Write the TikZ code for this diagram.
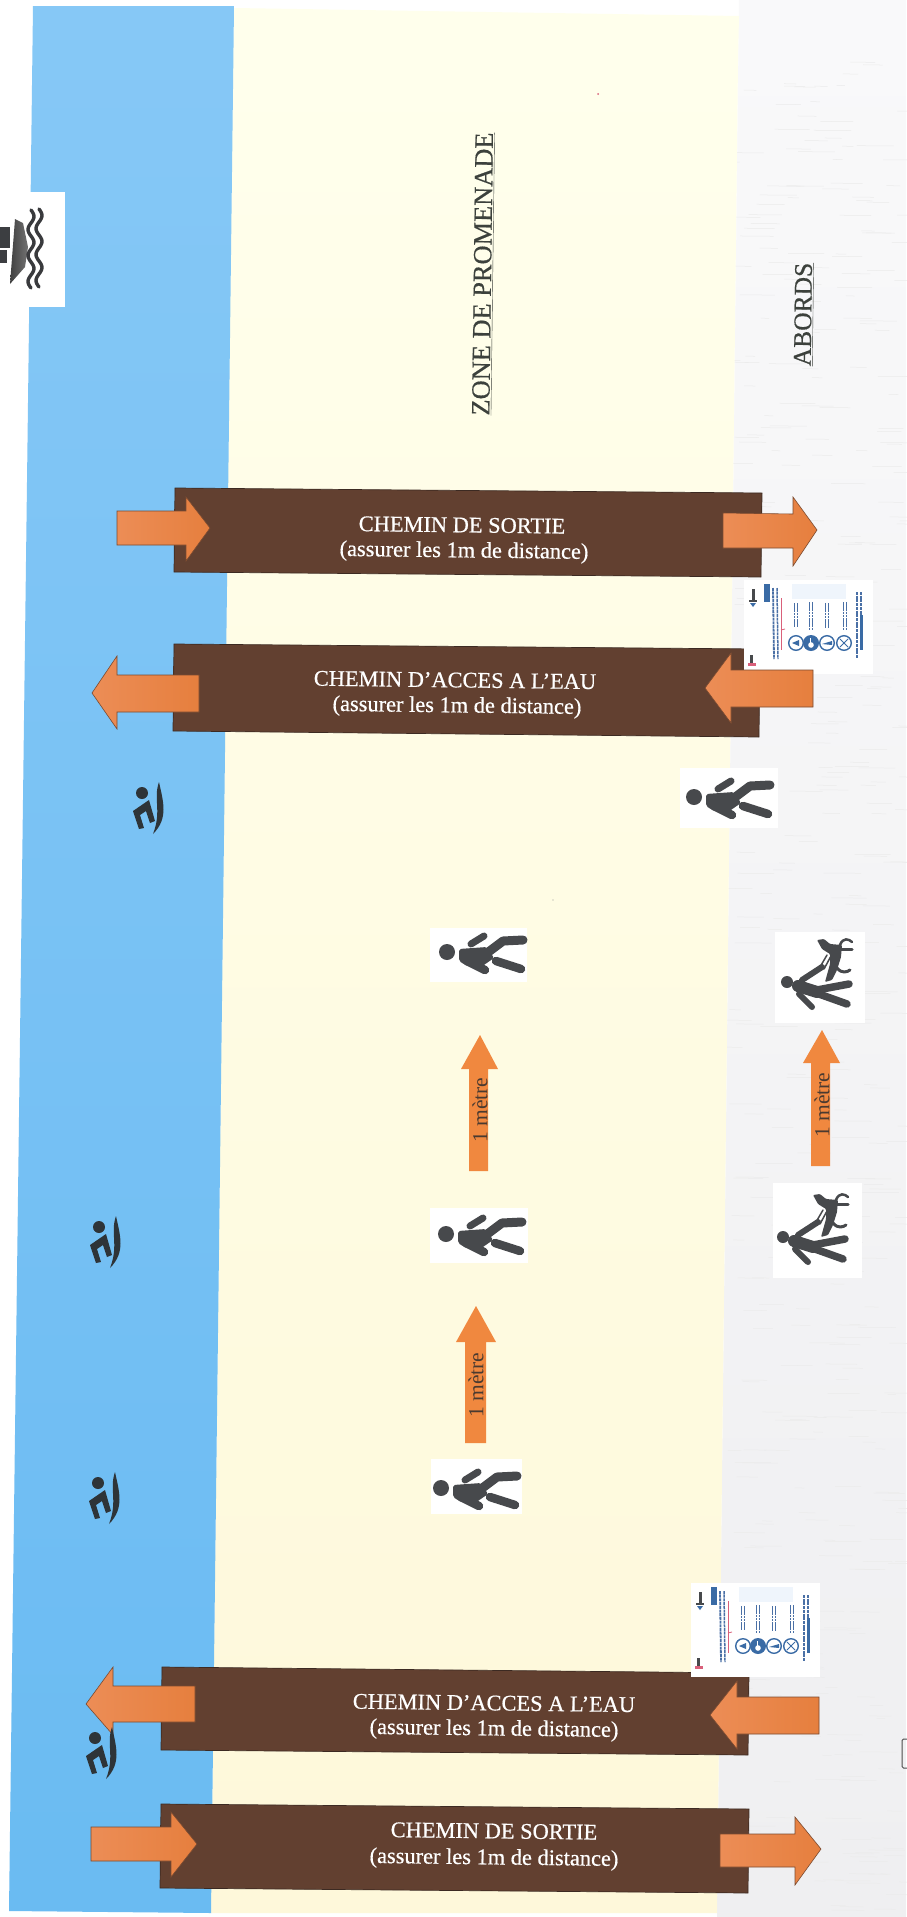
\documentclass[tikz,border=0pt]{standalone}
\usepackage{fontspec}
\setmainfont{Liberation Serif}
\newfontfamily\heavyfont[FakeBold=0.6]{Liberation Serif}
\newfontfamily\zonefont[FakeBold=0.5]{Liberation Serif}
\definecolor{cream}{HTML}{FEF8DA}
\definecolor{creamtop}{HTML}{FFFFEC}
\definecolor{creamb}{HTML}{FDF8D8}
\definecolor{bluea}{HTML}{86C8F6}
\definecolor{blueb}{HTML}{6ABBF2}
\definecolor{graya}{HTML}{F9F9FA}
\definecolor{grayb}{HTML}{EFEFF1}
\definecolor{barline}{HTML}{3C2A22}
\definecolor{barlight}{HTML}{624030}
\definecolor{bardark}{HTML}{50261C}
\definecolor{arrowline}{HTML}{7A4A30}
\definecolor{arrowa}{HTML}{EC8D56}
\definecolor{arrowb}{HTML}{E67F3E}
\definecolor{meter}{HTML}{F0883F}
\definecolor{meterink}{HTML}{4A3A30}
\definecolor{ink}{HTML}{47494C}
\definecolor{swimink}{HTML}{2E3438}
\definecolor{zoneink}{HTML}{3C413C}
\definecolor{postblue}{HTML}{3A6BA5}
\definecolor{posttext}{HTML}{4A70A6}
\definecolor{postred}{HTML}{D9607A}
\definecolor{blotch}{HTML}{EFF5FC}
\tikzset{
  barfill/.style={draw=barline,line width=0.7pt,top color=barlight,middle color=bardark,bottom color=barlight},
  arrowfill/.style={draw=arrowline,line width=0.6pt,left color=arrowa,right color=arrowb},
  meterarrow/.style={fill=meter},
  icon/.style={fill=ink,draw=none},
  limb/.style={draw=ink,line cap=round,line join=round},
  whitebox/.style={fill=white,draw=none},
  barhead/.style={text=white,font=\heavyfont\fontsize{22.4}{26}\selectfont,rotate=-0.7,inner sep=0pt},
  barsub/.style={text=white,font=\heavyfont\fontsize{22.4}{26}\selectfont,rotate=-0.7,inner sep=0pt},
  zonelabel/.style={text=zoneink,rotate=89.27,inner sep=0pt},
  meterlabel/.style={text=meterink,font=\fontsize{21.5}{24}\selectfont,rotate=90,inner sep=0pt},
  walker/.pic={
    \fill[icon] (0,0) circle (8);
    \draw[limb,line width=7pt] (24,-8) -- (37,-16);
    \fill[icon,rounded corners=2pt] (12,-3) -- (40,-5) -- (47,6) -- (34,15) -- (20,14) -- (12,9) -- cycle;
    \draw[limb,line width=9pt] (36,4) -- (56,-11) -- (76,-12);
    \draw[limb,line width=8.5pt] (20,9) -- (38,18);
    \draw[limb,line width=8.5pt] (49,9) -- (74,17);
  },
  dogwalker/.pic={
    \fill[icon] (0,0) circle (6);
    \draw[limb,line width=12pt] (11,4) -- (30,10);
    \draw[limb,line width=7.5pt] (30,8) -- (62,2);
    \draw[limb,line width=7.5pt] (32,12) -- (60,22);
    \draw[limb,line width=6pt] (15,-2) -- (35,-15);
    \draw[limb,line width=1.5pt] (33,-15) -- (40,-27);
    \draw[limb,line width=1.5pt] (37,-13) -- (44,-26);
    \draw[limb,line width=6pt] (12,12) -- (25,25);
    \fill[icon,rounded corners=1pt] (30,-42) -- (37,-43) -- (43,-38) -- (55,-37) -- (54,-25) -- (50,-12) -- (45,-2) -- (38,0) -- (43,-18) -- (43,-28) -- (35,-33) -- cycle;
    \draw[limb,line width=2.5pt] (53,-37) .. controls (56,-45) and (62,-43) .. (65,-40);
    \draw[limb,line width=3pt] (54,-33) -- (65,-33);
    \draw[limb,line width=3pt] (50,-14) .. controls (55,-8) and (60,-10) .. (63,-12);
  },
  swimmer/.pic={
    \fill[swimink] (0,0) circle (6);
    \fill[swimink] (-9,18) -- (7,7) -- (13,28) -- (8,30) -- (4,18) -- (-2,22) -- (2,35) -- (-3,36) -- cycle;
    \fill[swimink] (17,-11) .. controls (11,6) and (20,18) .. (11,41) .. controls (27,25) and (21,8) .. (17,-11) -- cycle;
  },
  poster/.pic={
    \fill[whitebox] (0,0) rectangle (129,94);
    \fill[blotch] (48,4) rectangle (102,19);
    \fill[postblue] (20,4) rectangle (26,22);
    \fill[ink] (8,9) rectangle (11,22);
    \fill[ink] (5,20) rectangle (13,22);
    \fill[postblue] (6,23) -- (12,23) -- (9,27) -- cycle;
    \fill[ink] (6,75) rectangle (9,86);
    \fill[postred] (4,83) rectangle (12,86);
    \draw[posttext,line width=1.8pt,dash pattern=on 3pt off 0.7pt] (29,8) -- (30,79);
    \draw[posttext,line width=1.5pt,dash pattern=on 3pt off 0.7pt] (33,8) -- (34,79);
    \draw[postred,line width=0.7pt] (37,18) -- (37,70);
    \draw[postred,line width=0.8pt] (37,50) -- (41,49);
    \foreach \cx/\ytop/\ybot in {52/23/47,67/22/50,83/23/48,101/22/50}{
      \draw[posttext,line width=1.6pt,dash pattern=on 2.5pt off 0.7pt] (\cx-1.5,\ytop) -- (\cx-1.5,\ybot);
      \draw[posttext,line width=1.4pt,dash pattern=on 2.5pt off 0.7pt] (\cx+1.5,\ytop) -- (\cx+1.5,\ybot);
    }
    \draw[posttext,line width=1.4pt,dash pattern=on 3pt off 0.7pt] (113,12) -- (113,78);
    \draw[postblue,line width=3pt] (117,35) -- (117,70);
    \draw[posttext,line width=1.5pt,dash pattern=on 3pt off 0.7pt] (117,12) -- (117,35);
    \foreach \cx in {52,83,100}{
      \draw[postblue,line width=1.4pt] (\cx,63) circle (7.3);
    }
    \fill[postblue] (67,63) circle (8);
    \fill[white] (67,65) circle (2.8);
    \draw[white,line width=1pt] (66,58) -- (66,64);
    \fill[postblue] (48,63) -- (55,60) -- (55,66) -- cycle;
    \fill[postblue] (78,64) -- (88,61) -- (88,65) -- cycle;
    \draw[postblue,line width=1pt] (96,59) -- (104,67) (104,59) -- (96,67);
  }
}
\begin{document}
\begin{tikzpicture}[x=1pt,y=-1pt]
\useasboundingbox (0,0) rectangle (906,1917);
\fill[white] (0,0) rectangle (906,1917);
% bands
\shade[top color=graya,bottom color=grayb] (739,0) -- (906,0) -- (906,1917) -- (717,1917) -- cycle;
\pgfmathsetseed{42}
\foreach \k in {1,...,420}{
  \pgfmathsetmacro{\px}{725+rnd*175+ (1-rnd)*0}
  \pgfmathsetmacro{\py}{60+rnd*1850}
  \pgfmathsetmacro{\pl}{8+rnd*30}
  \draw[black!8,line width=0.5pt] (\px,\py) -- ++(\pl,0.3);
}
\fill[creamtop] (234,8) -- (739,16) -- (738,60) -- (233,60) -- cycle;
\shade[top color=creamtop,middle color=creamb,bottom color=cream] (233,60) -- (738,60) -- (717,1913) -- (211,1913) -- cycle;
\shade[top color=bluea,bottom color=blueb] (33,6) -- (234,6) -- (211,1913) -- (9,1911) -- cycle;
% boat notch
\fill[whitebox] (0,192) rectangle (65,307);
\fill[ink!85!black] (0,227) rectangle (10,248);
\fill[ink!85!black] (0,250) rectangle (7,263);
\shade[left color=black!75,right color=black!55] (15,219) -- (23,223) -- (28,247) -- (25,267) -- (10,284) -- cycle;
\draw[ink!80!black,line width=3.4pt,line cap=round] plot[domain=0:1,samples=50] ({31+3*sin(1080*\x)},{210+78*\x});
\draw[ink!80!black,line width=3.4pt,line cap=round] plot[domain=0:1,samples=50] ({39+3*sin(1080*\x)},{209+78*\x});
% bars
\path[barfill] (175,488) -- (762,493) -- (761,577) -- (174,572) -- cycle;
\path[barfill] (174,644) -- (760,649) -- (759,737) -- (173,731) -- cycle;
\path[barfill] (162,1667) -- (749,1673) -- (748,1755) -- (161,1750) -- cycle;
\path[barfill] (161,1804) -- (749,1809) -- (748,1893) -- (160,1888) -- cycle;
% posters
\pic at (744,580) {poster};
\pic at (691,1583) {poster};
% bar texts
\node[barhead] (t1a) at (462,525) {CHEMIN DE SORTIE};
\node[barsub] (t1b) at (464,552) {(assurer les 1m de distance)};
\node[barhead] (t2a) at (455,680) {CHEMIN D’ACCES A L’EAU};
\node[barsub] (t2b) at (457,707) {(assurer les 1m de distance)};
\node[barhead] (t3a) at (494,1703) {CHEMIN D’ACCES A L’EAU};
\node[barsub] (t3b) at (494,1730) {(assurer les 1m de distance)};
\node[barhead] (t4a) at (494,1831) {CHEMIN DE SORTIE};
\node[barsub] (t4b) at (494,1859) {(assurer les 1m de distance)};
% block arrows
\path[arrowfill] (117,511) -- (186,511) -- (186,497) -- (210,528) -- (186,561) -- (186,545) -- (117,545) -- cycle;
\path[arrowfill] (723,513) -- (793,514) -- (793,497) -- (817,530) -- (793,566) -- (793,548) -- (723,548) -- cycle;
\path[arrowfill] (199,675) -- (117,675) -- (117,656) -- (92,693) -- (117,729) -- (117,712) -- (199,712) -- cycle;
\path[arrowfill] (813,670) -- (731,670) -- (731,653) -- (705,688) -- (731,723) -- (731,707) -- (813,707) -- cycle;
\path[arrowfill] (195,1686) -- (113,1686) -- (113,1667) -- (86,1704) -- (113,1735) -- (113,1722) -- (195,1722) -- cycle;
\path[arrowfill] (819,1697) -- (737,1697) -- (737,1681) -- (710,1715) -- (737,1749) -- (737,1734) -- (819,1734) -- cycle;
\path[arrowfill] (91,1827) -- (171,1827) -- (171,1812) -- (197,1844) -- (171,1877) -- (171,1861) -- (91,1861) -- cycle;
\path[arrowfill] (720,1834) -- (795,1834) -- (795,1817) -- (821,1849) -- (795,1885) -- (795,1867) -- (720,1867) -- cycle;
% zone labels
\node[zonelabel,font=\zonefont\fontsize{26.4}{30}\selectfont] (zone) at (483.5,274) {\underline{ZONE DE PROMENADE}};
\node[zonelabel,font=\zonefont\fontsize{25.5}{30}\selectfont] (abords) at (804,314.5) {\underline{ABORDS}};
% one metre arrows
\fill[meterarrow] (469,1171) -- (469,1069) -- (461,1069) -- (480,1035) -- (498,1069) -- (488,1069) -- (488,1171) -- cycle;
\node[meterlabel] (m1) at (480,1110) {1 mètre};
\fill[meterarrow] (811,1166) -- (811,1063) -- (803,1063) -- (822,1030) -- (840,1063) -- (830,1063) -- (830,1166) -- cycle;
\node[meterlabel] (m2) at (822,1105) {1 mètre};
\fill[meterarrow] (465,1443) -- (465,1342) -- (456,1342) -- (476,1306) -- (496,1342) -- (486,1342) -- (486,1443) -- cycle;
\node[meterlabel] (m3) at (476,1385) {1 mètre};
% walkers
\fill[whitebox] (430,928) rectangle (527,982);
\pic at (447,952) {walker};
\fill[whitebox] (430,1208) rectangle (528,1263);
\pic at (446,1234) {walker};
\fill[whitebox] (431,1459) rectangle (522,1514);
\pic at (441,1488) {walker};
\fill[whitebox] (680,768) rectangle (778,828);
\pic at (694,797) {walker};
% dog walkers
\fill[whitebox] (775,932) rectangle (865,1023);
\pic at (787,982) {dogwalker};
\fill[whitebox] (773,1183) rectangle (862,1278);
\pic at (783,1237) {dogwalker};
% swimmers
\pic at (142,793) {swimmer};
\pic at (99,1227) {swimmer};
\pic at (98,1483) {swimmer};
\pic at (95,1738) {swimmer};
% scan marks
\fill[postred] (598,94) circle (1);
\fill[black!40] (553,900) circle (0.6);
\draw[black!70,line width=1pt,rounded corners=1.5pt] (907,1739) -- (902,1739) -- (902,1768) -- (907,1768);
\end{tikzpicture}
\end{document}
